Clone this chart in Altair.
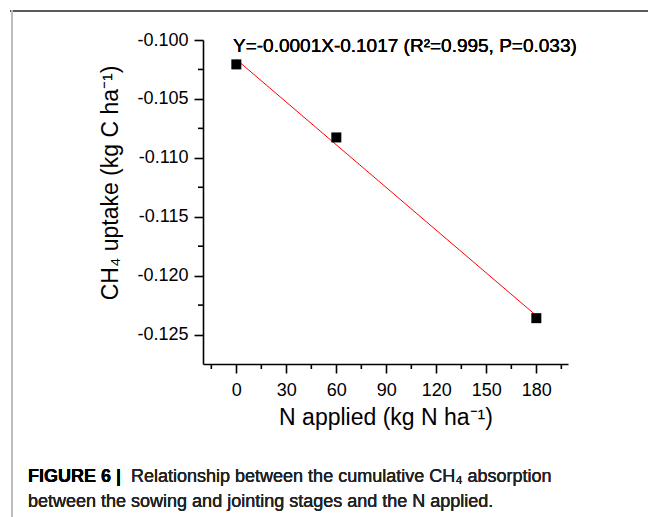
import altair as alt
import pandas as pd

# Data
n_applied = [0, 60, 180]
ch4_uptake = [-0.10207, -0.10827, -0.12361]

# Axis tick values
y_major = [-0.125, -0.12, -0.115, -0.11, -0.105, -0.1]
y_minor = [-0.1225, -0.1175, -0.1125, -0.1075, -0.1025]
x_major = [0, 30, 60, 90, 120, 150, 180]
x_minor = [-15, 15, 45, 75, 105, 135, 165, 195]

equation = "Y=-0.0001X-0.1017 (R\u00b2=0.995, P=0.033)"
caption_bold = "FIGURE 6 |"
caption_line1 = "Relationship between the cumulative CH\u2084 absorption"
caption_line2 = "between the sowing and jointing stages and the N applied."

df = pd.DataFrame({"N": n_applied, "CH4": ch4_uptake})
df_xminor = pd.DataFrame({"N": x_minor})
df_yminor = pd.DataFrame({"CH4": y_minor})

FONT = "Arial, Liberation Sans"

xscale = alt.Scale(domain=[-20, 199], nice=False, zero=False)
yscale = alt.Scale(domain=[-0.1275, -0.1], nice=False, zero=False)

xaxis = alt.Axis(
    values=x_major, format="d",
    tickSize=9, tickWidth=1.6, tickColor="black", domainColor="black", domainWidth=1.6,
    labelFont=FONT, labelFontSize=18, labelColor="black", labelPadding=8,
    labelBaseline="top", labelOverlap=False, labelFlush=False,
    title="N applied (kg N ha\u207b\u00b9)", titleFont=FONT, titleFontSize=23,
    titleFontWeight="normal", titleColor="black",
    titleX=182.5, titleY=60, titleBaseline="alphabetic", titleAlign="center",
    grid=False,
)
yaxis = alt.Axis(
    values=y_major,
    labelExpr="'-' + format(abs(datum.value), '.3f')",
    tickSize=9, tickWidth=1.6, tickColor="black", domainColor="black", domainWidth=1.6,
    labelFont=FONT, labelFontSize=18, labelColor="black", labelPadding=6,
    labelOverlap=False, labelFlush=False,
    title="CH\u2084 uptake (kg C ha\u207b\u00b9)", titleFont=FONT, titleFontSize=23,
    titleFontWeight="normal", titleColor="black",
    titleAngle=270, titleX=-86, titleY=142.5, titleBaseline="alphabetic",
    titleAlign="center",
    grid=False,
)

base = alt.Chart(df)

points = base.mark_square(size=100, color="black", opacity=1).encode(
    x=alt.X("N:Q", scale=xscale, axis=xaxis),
    y=alt.Y("CH4:Q", scale=yscale, axis=yaxis),
)

fit = base.transform_regression("N", "CH4", extent=[0, 180]).mark_line(
    color="#ff0000", strokeWidth=1
).encode(
    x=alt.X("N:Q", scale=xscale),
    y=alt.Y("CH4:Q", scale=yscale),
)

x_minor_ticks = alt.Chart(df_xminor).mark_rule(color="black", strokeWidth=1.6).encode(
    x=alt.X("N:Q", scale=xscale),
    y=alt.value(324), y2=alt.value(329),
)
y_minor_ticks = alt.Chart(df_yminor).mark_rule(color="black", strokeWidth=1.6).encode(
    y=alt.Y("CH4:Q", scale=yscale),
    x=alt.value(0), x2=alt.value(-5),
)

eq_text = base.mark_text(
    text=equation, font=FONT, fontSize=19, align="left", baseline="alphabetic",
    color="black"
).encode(x=alt.value(30), y=alt.value(11.7))

frame_top = base.mark_rule(color="#5a5a5a", strokeWidth=2).encode(
    x=alt.value(-193), x2=alt.value(445), y=alt.value(-29)
)
frame_left = base.mark_rule(color="#bdbdbd", strokeWidth=2).encode(
    x=alt.value(-191), y=alt.value(-30), y2=alt.value(477)
)

cap_b = base.mark_text(
    text=caption_bold, font=FONT, fontSize=18, fontWeight="bold", align="left",
    baseline="alphabetic", color="black"
).encode(x=alt.value(-175), y=alt.value(442))
cap_1 = base.mark_text(
    text=caption_line1, font=FONT, fontSize=18, align="left",
    baseline="alphabetic", color="#222222"
).encode(x=alt.value(-72), y=alt.value(442))
cap_2 = base.mark_text(
    text=caption_line2, font=FONT, fontSize=18, align="left",
    baseline="alphabetic", color="#222222"
).encode(x=alt.value(-175), y=alt.value(466.7))

chart = alt.layer(
    fit, points, x_minor_ticks, y_minor_ticks, eq_text,
    frame_top, frame_left, cap_b, cap_1, cap_2
).properties(
    width=365, height=324,
    padding={"left": 203, "top": 40, "right": 80, "bottom": 153},
    autosize=alt.AutoSizeParams(type="none"),
    background="white",
).configure_view(stroke=None)

chart.save("out.html", embed_options={"renderer": "svg", "actions": False})
